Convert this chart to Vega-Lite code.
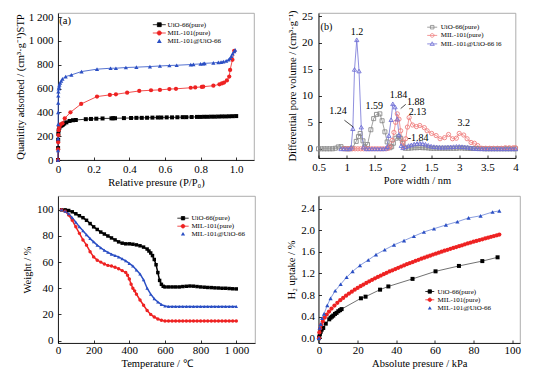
{
"$schema": "https://vega.github.io/schema/vega-lite/v6.json",
"background": "white",
"padding": {"left": 14, "top": 9, "right": 0, "bottom": 0},
"columns": 2,
"spacing": {"row": 36, "column": 63.5},
"bounds": "flush",
"resolve": {"scale": {"color": "independent", "fill": "independent", "stroke": "independent", "shape": "independent", "x": "independent", "y": "independent"}, "legend": {"color": "independent", "fill": "independent", "stroke": "independent", "shape": "independent"}},
"config": {
  "font": "Liberation Serif",
  "view": {"stroke": "#999", "strokeWidth": 0.8},
  "axis": {"grid": false, "domainColor": "#000", "domainWidth": 0.8, "tickColor": "#000", "tickWidth": 0.8, "tickSize": -3, "labelPadding": 8, "labelColor": "#000", "titleColor": "#000", "labelFont": "Liberation Serif", "titleFont": "Liberation Serif", "labelFontSize": 11, "titleFontSize": 10.5, "titleFontWeight": "normal", "labelFlush": false, "labelOverlap": false, "tickCount": 30},
  "legend": {"labelFont": "Liberation Serif", "labelFontSize": 7, "labelColor": "#000", "padding": 0, "labelLimit": 300, "symbolOpacity": 1, "symbolStrokeWidth": 0.8}
},
"datasets": {
"a": [
{"s":"UiO-66(pure)","x":0,"y":0},{"s":"UiO-66(pure)","x":0.0005,"y":100},{"s":"UiO-66(pure)","x":0.001,"y":170},{"s":"UiO-66(pure)","x":0.002,"y":220},{"s":"UiO-66(pure)","x":0.004,"y":250},{"s":"UiO-66(pure)","x":0.008,"y":272},{"s":"UiO-66(pure)","x":0.015,"y":285},{"s":"UiO-66(pure)","x":0.022,"y":292},{"s":"UiO-66(pure)","x":0.028,"y":298},{"s":"UiO-66(pure)","x":0.035,"y":306},{"s":"UiO-66(pure)","x":0.047,"y":316},{"s":"UiO-66(pure)","x":0.065,"y":328},{"s":"UiO-66(pure)","x":0.084,"y":334},{"s":"UiO-66(pure)","x":0.1,"y":336},{"s":"UiO-66(pure)","x":0.156,"y":343},{"s":"UiO-66(pure)","x":0.185,"y":345},{"s":"UiO-66(pure)","x":0.215,"y":347},{"s":"UiO-66(pure)","x":0.25,"y":349},{"s":"UiO-66(pure)","x":0.3,"y":350},{"s":"UiO-66(pure)","x":0.31,"y":351},{"s":"UiO-66(pure)","x":0.32,"y":351},{"s":"UiO-66(pure)","x":0.37,"y":352},{"s":"UiO-66(pure)","x":0.41,"y":353},{"s":"UiO-66(pure)","x":0.44,"y":354},{"s":"UiO-66(pure)","x":0.47,"y":354},{"s":"UiO-66(pure)","x":0.5,"y":355},{"s":"UiO-66(pure)","x":0.53,"y":356},{"s":"UiO-66(pure)","x":0.56,"y":357},{"s":"UiO-66(pure)","x":0.58,"y":357},{"s":"UiO-66(pure)","x":0.61,"y":358},{"s":"UiO-66(pure)","x":0.64,"y":358},{"s":"UiO-66(pure)","x":0.67,"y":359},{"s":"UiO-66(pure)","x":0.7,"y":360},{"s":"UiO-66(pure)","x":0.72,"y":360},{"s":"UiO-66(pure)","x":0.75,"y":361},{"s":"UiO-66(pure)","x":0.78,"y":362},{"s":"UiO-66(pure)","x":0.8,"y":362},{"s":"UiO-66(pure)","x":0.82,"y":363},{"s":"UiO-66(pure)","x":0.84,"y":363},{"s":"UiO-66(pure)","x":0.86,"y":364},{"s":"UiO-66(pure)","x":0.88,"y":364},{"s":"UiO-66(pure)","x":0.9,"y":365},{"s":"UiO-66(pure)","x":0.92,"y":366},{"s":"UiO-66(pure)","x":0.94,"y":366},{"s":"UiO-66(pure)","x":0.96,"y":367},{"s":"UiO-66(pure)","x":0.98,"y":368},{"s":"UiO-66(pure)","x":1.0,"y":369},
{"s":"MIL-101(pure)","x":0,"y":0},{"s":"MIL-101(pure)","x":0.0005,"y":90},{"s":"MIL-101(pure)","x":0.001,"y":150},{"s":"MIL-101(pure)","x":0.002,"y":210},{"s":"MIL-101(pure)","x":0.004,"y":250},{"s":"MIL-101(pure)","x":0.007,"y":275},{"s":"MIL-101(pure)","x":0.01,"y":289},{"s":"MIL-101(pure)","x":0.015,"y":300},{"s":"MIL-101(pure)","x":0.025,"y":308},{"s":"MIL-101(pure)","x":0.038,"y":350},{"s":"MIL-101(pure)","x":0.07,"y":401},{"s":"MIL-101(pure)","x":0.13,"y":471},{"s":"MIL-101(pure)","x":0.219,"y":533},{"s":"MIL-101(pure)","x":0.291,"y":547},{"s":"MIL-101(pure)","x":0.325,"y":552},{"s":"MIL-101(pure)","x":0.388,"y":566},{"s":"MIL-101(pure)","x":0.456,"y":580},{"s":"MIL-101(pure)","x":0.522,"y":586},{"s":"MIL-101(pure)","x":0.572,"y":589},{"s":"MIL-101(pure)","x":0.625,"y":596},{"s":"MIL-101(pure)","x":0.662,"y":598},{"s":"MIL-101(pure)","x":0.745,"y":607},{"s":"MIL-101(pure)","x":0.77,"y":610},{"s":"MIL-101(pure)","x":0.807,"y":614},{"s":"MIL-101(pure)","x":0.815,"y":616},{"s":"MIL-101(pure)","x":0.872,"y":624},{"s":"MIL-101(pure)","x":0.906,"y":636},{"s":"MIL-101(pure)","x":0.92,"y":643},{"s":"MIL-101(pure)","x":0.932,"y":651},{"s":"MIL-101(pure)","x":0.948,"y":668},{"s":"MIL-101(pure)","x":0.961,"y":701},{"s":"MIL-101(pure)","x":0.966,"y":757},{"s":"MIL-101(pure)","x":0.979,"y":842},{"s":"MIL-101(pure)","x":0.989,"y":917},
{"s":"MIL-101@UiO-66","x":0,"y":0},{"s":"MIL-101@UiO-66","x":0.0003,"y":80},{"s":"MIL-101@UiO-66","x":0.0005,"y":180},{"s":"MIL-101@UiO-66","x":0.0008,"y":300},{"s":"MIL-101@UiO-66","x":0.001,"y":400},{"s":"MIL-101@UiO-66","x":0.0013,"y":480},{"s":"MIL-101@UiO-66","x":0.0016,"y":540},{"s":"MIL-101@UiO-66","x":0.002,"y":575},{"s":"MIL-101@UiO-66","x":0.004,"y":600},{"s":"MIL-101@UiO-66","x":0.006,"y":615},{"s":"MIL-101@UiO-66","x":0.008,"y":631},{"s":"MIL-101@UiO-66","x":0.012,"y":648},{"s":"MIL-101@UiO-66","x":0.018,"y":664},{"s":"MIL-101@UiO-66","x":0.025,"y":682},{"s":"MIL-101@UiO-66","x":0.043,"y":701},{"s":"MIL-101@UiO-66","x":0.075,"y":715},{"s":"MIL-101@UiO-66","x":0.132,"y":743},{"s":"MIL-101@UiO-66","x":0.219,"y":763},{"s":"MIL-101@UiO-66","x":0.295,"y":771},{"s":"MIL-101@UiO-66","x":0.325,"y":771},{"s":"MIL-101@UiO-66","x":0.381,"y":777},{"s":"MIL-101@UiO-66","x":0.44,"y":780},{"s":"MIL-101@UiO-66","x":0.516,"y":785},{"s":"MIL-101@UiO-66","x":0.572,"y":790},{"s":"MIL-101@UiO-66","x":0.625,"y":794},{"s":"MIL-101@UiO-66","x":0.666,"y":796},{"s":"MIL-101@UiO-66","x":0.745,"y":802},{"s":"MIL-101@UiO-66","x":0.76,"y":804},{"s":"MIL-101@UiO-66","x":0.8,"y":807},{"s":"MIL-101@UiO-66","x":0.815,"y":810},{"s":"MIL-101@UiO-66","x":0.823,"y":812},{"s":"MIL-101@UiO-66","x":0.872,"y":816},{"s":"MIL-101@UiO-66","x":0.9,"y":820},{"s":"MIL-101@UiO-66","x":0.915,"y":823},{"s":"MIL-101@UiO-66","x":0.928,"y":827},{"s":"MIL-101@UiO-66","x":0.944,"y":833},{"s":"MIL-101@UiO-66","x":0.957,"y":842},{"s":"MIL-101@UiO-66","x":0.966,"y":855},{"s":"MIL-101@UiO-66","x":0.973,"y":872},{"s":"MIL-101@UiO-66","x":0.98,"y":893},{"s":"MIL-101@UiO-66","x":0.989,"y":912},{"s":"MIL-101@UiO-66","x":0.994,"y":925}
],
"b": [
{"s":"UiO-66(pure)","x":0.5,"y":0},{"s":"UiO-66(pure)","x":0.55,"y":0},{"s":"UiO-66(pure)","x":0.6,"y":0},{"s":"UiO-66(pure)","x":0.65,"y":0},{"s":"UiO-66(pure)","x":0.7,"y":0},{"s":"UiO-66(pure)","x":0.75,"y":0},{"s":"UiO-66(pure)","x":0.8,"y":0.1},{"s":"UiO-66(pure)","x":0.85,"y":0.35},{"s":"UiO-66(pure)","x":0.9,"y":0.4},{"s":"UiO-66(pure)","x":0.95,"y":0.05},{"s":"UiO-66(pure)","x":1.0,"y":0},{"s":"UiO-66(pure)","x":1.05,"y":0},{"s":"UiO-66(pure)","x":1.1,"y":0.1},{"s":"UiO-66(pure)","x":1.17,"y":1.4},{"s":"UiO-66(pure)","x":1.21,"y":2.3},{"s":"UiO-66(pure)","x":1.24,"y":2.9},{"s":"UiO-66(pure)","x":1.29,"y":1.5},{"s":"UiO-66(pure)","x":1.32,"y":0.4},{"s":"UiO-66(pure)","x":1.37,"y":0.8},{"s":"UiO-66(pure)","x":1.43,"y":3.6},{"s":"UiO-66(pure)","x":1.48,"y":5.7},{"s":"UiO-66(pure)","x":1.53,"y":6.5},{"s":"UiO-66(pure)","x":1.59,"y":6.6},{"s":"UiO-66(pure)","x":1.63,"y":5.3},{"s":"UiO-66(pure)","x":1.68,"y":3.2},{"s":"UiO-66(pure)","x":1.72,"y":1.3},{"s":"UiO-66(pure)","x":1.77,"y":0.2},{"s":"UiO-66(pure)","x":1.8,"y":0.4},{"s":"UiO-66(pure)","x":1.83,"y":1.05},{"s":"UiO-66(pure)","x":1.875,"y":2.0},{"s":"UiO-66(pure)","x":1.92,"y":2.3},{"s":"UiO-66(pure)","x":1.96,"y":2.0},{"s":"UiO-66(pure)","x":2.0,"y":1.05},{"s":"UiO-66(pure)","x":2.04,"y":0.1},{"s":"UiO-66(pure)","x":2.1,"y":0.1},{"s":"UiO-66(pure)","x":2.15,"y":0.15},{"s":"UiO-66(pure)","x":2.2,"y":0.2},{"s":"UiO-66(pure)","x":2.25,"y":0.2},{"s":"UiO-66(pure)","x":2.3,"y":0.25},{"s":"UiO-66(pure)","x":2.35,"y":0.2},{"s":"UiO-66(pure)","x":2.4,"y":0.2},{"s":"UiO-66(pure)","x":2.45,"y":0.15},{"s":"UiO-66(pure)","x":2.5,"y":0.1},{"s":"UiO-66(pure)","x":2.55,"y":0.1},{"s":"UiO-66(pure)","x":2.6,"y":0.1},{"s":"UiO-66(pure)","x":2.65,"y":0.1},{"s":"UiO-66(pure)","x":2.7,"y":0.1},{"s":"UiO-66(pure)","x":2.75,"y":0.1},{"s":"UiO-66(pure)","x":2.8,"y":0.1},{"s":"UiO-66(pure)","x":2.85,"y":0.1},{"s":"UiO-66(pure)","x":2.9,"y":0.1},{"s":"UiO-66(pure)","x":2.95,"y":0.1},{"s":"UiO-66(pure)","x":3.0,"y":0.15},{"s":"UiO-66(pure)","x":3.05,"y":0.15},{"s":"UiO-66(pure)","x":3.1,"y":0.1},{"s":"UiO-66(pure)","x":3.15,"y":0.1},{"s":"UiO-66(pure)","x":3.2,"y":0.05},{"s":"UiO-66(pure)","x":3.25,"y":0.05},{"s":"UiO-66(pure)","x":3.3,"y":0.05},{"s":"UiO-66(pure)","x":3.35,"y":0.05},{"s":"UiO-66(pure)","x":3.4,"y":0.05},{"s":"UiO-66(pure)","x":3.45,"y":0},{"s":"UiO-66(pure)","x":3.5,"y":0},{"s":"UiO-66(pure)","x":3.55,"y":0},{"s":"UiO-66(pure)","x":3.6,"y":0},{"s":"UiO-66(pure)","x":3.65,"y":0},{"s":"UiO-66(pure)","x":3.7,"y":0},{"s":"UiO-66(pure)","x":3.75,"y":0},{"s":"UiO-66(pure)","x":3.8,"y":0},{"s":"UiO-66(pure)","x":3.85,"y":0},{"s":"UiO-66(pure)","x":3.9,"y":0},{"s":"UiO-66(pure)","x":3.95,"y":0},{"s":"UiO-66(pure)","x":4.0,"y":0},
{"s":"MIL-101(pure)","x":0.95,"y":0},{"s":"MIL-101(pure)","x":1.0,"y":0},{"s":"MIL-101(pure)","x":1.05,"y":0},{"s":"MIL-101(pure)","x":1.1,"y":0},{"s":"MIL-101(pure)","x":1.15,"y":0},{"s":"MIL-101(pure)","x":1.2,"y":0},{"s":"MIL-101(pure)","x":1.25,"y":0},{"s":"MIL-101(pure)","x":1.3,"y":0},{"s":"MIL-101(pure)","x":1.35,"y":0},{"s":"MIL-101(pure)","x":1.4,"y":0},{"s":"MIL-101(pure)","x":1.45,"y":0},{"s":"MIL-101(pure)","x":1.5,"y":0},{"s":"MIL-101(pure)","x":1.55,"y":0},{"s":"MIL-101(pure)","x":1.6,"y":0},{"s":"MIL-101(pure)","x":1.65,"y":0},{"s":"MIL-101(pure)","x":1.7,"y":0},{"s":"MIL-101(pure)","x":1.74,"y":0.1},{"s":"MIL-101(pure)","x":1.77,"y":0.4},{"s":"MIL-101(pure)","x":1.81,"y":1.6},{"s":"MIL-101(pure)","x":1.84,"y":3.1},{"s":"MIL-101(pure)","x":1.87,"y":5.0},{"s":"MIL-101(pure)","x":1.9,"y":6.6},{"s":"MIL-101(pure)","x":1.93,"y":5.6},{"s":"MIL-101(pure)","x":1.96,"y":3.4},{"s":"MIL-101(pure)","x":1.99,"y":1.25},{"s":"MIL-101(pure)","x":2.02,"y":0.3},{"s":"MIL-101(pure)","x":2.05,"y":1.9},{"s":"MIL-101(pure)","x":2.08,"y":4.1},{"s":"MIL-101(pure)","x":2.11,"y":5.9},{"s":"MIL-101(pure)","x":2.17,"y":4.5},{"s":"MIL-101(pure)","x":2.24,"y":4.2},{"s":"MIL-101(pure)","x":2.3,"y":4.4},{"s":"MIL-101(pure)","x":2.38,"y":4.0},{"s":"MIL-101(pure)","x":2.43,"y":3.4},{"s":"MIL-101(pure)","x":2.51,"y":2.9},{"s":"MIL-101(pure)","x":2.59,"y":2.5},{"s":"MIL-101(pure)","x":2.66,"y":1.9},{"s":"MIL-101(pure)","x":2.74,"y":2.1},{"s":"MIL-101(pure)","x":2.81,"y":2.7},{"s":"MIL-101(pure)","x":2.88,"y":1.9},{"s":"MIL-101(pure)","x":2.95,"y":2.0},{"s":"MIL-101(pure)","x":3.0,"y":2.9},{"s":"MIL-101(pure)","x":3.08,"y":2.6},{"s":"MIL-101(pure)","x":3.14,"y":1.9},{"s":"MIL-101(pure)","x":3.21,"y":1.2},{"s":"MIL-101(pure)","x":3.27,"y":1.05},{"s":"MIL-101(pure)","x":3.33,"y":0.6},{"s":"MIL-101(pure)","x":3.4,"y":0.1},{"s":"MIL-101(pure)","x":3.47,"y":0.1},{"s":"MIL-101(pure)","x":3.54,"y":0.1},{"s":"MIL-101(pure)","x":3.61,"y":0.1},{"s":"MIL-101(pure)","x":3.68,"y":0.1},{"s":"MIL-101(pure)","x":3.75,"y":0.1},{"s":"MIL-101(pure)","x":3.82,"y":0.2},{"s":"MIL-101(pure)","x":3.89,"y":0.2},{"s":"MIL-101(pure)","x":3.96,"y":0.2},{"s":"MIL-101(pure)","x":4.0,"y":0.2},
{"s":"MIL-101@UiO-66","x":0.9,"y":0},{"s":"MIL-101@UiO-66","x":0.95,"y":0},{"s":"MIL-101@UiO-66","x":1.0,"y":0},{"s":"MIL-101@UiO-66","x":1.05,"y":0},{"s":"MIL-101@UiO-66","x":1.08,"y":0.3},{"s":"MIL-101@UiO-66","x":1.11,"y":3.8},{"s":"MIL-101@UiO-66","x":1.14,"y":15},{"s":"MIL-101@UiO-66","x":1.18,"y":20.6},{"s":"MIL-101@UiO-66","x":1.22,"y":14.7},{"s":"MIL-101@UiO-66","x":1.26,"y":4.1},{"s":"MIL-101@UiO-66","x":1.3,"y":0.3},{"s":"MIL-101@UiO-66","x":1.35,"y":0},{"s":"MIL-101@UiO-66","x":1.4,"y":0},{"s":"MIL-101@UiO-66","x":1.45,"y":0},{"s":"MIL-101@UiO-66","x":1.5,"y":0},{"s":"MIL-101@UiO-66","x":1.55,"y":0},{"s":"MIL-101@UiO-66","x":1.6,"y":0},{"s":"MIL-101@UiO-66","x":1.65,"y":0},{"s":"MIL-101@UiO-66","x":1.7,"y":0.1},{"s":"MIL-101@UiO-66","x":1.72,"y":0.4},{"s":"MIL-101@UiO-66","x":1.75,"y":2.5},{"s":"MIL-101@UiO-66","x":1.79,"y":5.5},{"s":"MIL-101@UiO-66","x":1.82,"y":8.5},{"s":"MIL-101@UiO-66","x":1.86,"y":7.9},{"s":"MIL-101@UiO-66","x":1.9,"y":5.6},{"s":"MIL-101@UiO-66","x":1.93,"y":2.6},{"s":"MIL-101@UiO-66","x":1.97,"y":0.6},{"s":"MIL-101@UiO-66","x":2.0,"y":0.2},{"s":"MIL-101@UiO-66","x":2.05,"y":0.4},{"s":"MIL-101@UiO-66","x":2.1,"y":0.6},{"s":"MIL-101@UiO-66","x":2.15,"y":0.75},{"s":"MIL-101@UiO-66","x":2.2,"y":0.9},{"s":"MIL-101@UiO-66","x":2.25,"y":1.0},{"s":"MIL-101@UiO-66","x":2.3,"y":1.05},{"s":"MIL-101@UiO-66","x":2.35,"y":1.0},{"s":"MIL-101@UiO-66","x":2.4,"y":0.85},{"s":"MIL-101@UiO-66","x":2.45,"y":0.65},{"s":"MIL-101@UiO-66","x":2.5,"y":0.5},{"s":"MIL-101@UiO-66","x":2.55,"y":0.4},{"s":"MIL-101@UiO-66","x":2.6,"y":0.35},{"s":"MIL-101@UiO-66","x":2.65,"y":0.3},{"s":"MIL-101@UiO-66","x":2.7,"y":0.3},{"s":"MIL-101@UiO-66","x":2.75,"y":0.3},{"s":"MIL-101@UiO-66","x":2.8,"y":0.35},{"s":"MIL-101@UiO-66","x":2.85,"y":0.35},{"s":"MIL-101@UiO-66","x":2.9,"y":0.4},{"s":"MIL-101@UiO-66","x":2.95,"y":0.45},{"s":"MIL-101@UiO-66","x":3.0,"y":0.45},{"s":"MIL-101@UiO-66","x":3.05,"y":0.4},{"s":"MIL-101@UiO-66","x":3.1,"y":0.35},{"s":"MIL-101@UiO-66","x":3.15,"y":0.3},{"s":"MIL-101@UiO-66","x":3.2,"y":0.2},{"s":"MIL-101@UiO-66","x":3.25,"y":0.1},{"s":"MIL-101@UiO-66","x":3.3,"y":0.05},{"s":"MIL-101@UiO-66","x":3.35,"y":0},{"s":"MIL-101@UiO-66","x":3.4,"y":0},{"s":"MIL-101@UiO-66","x":3.45,"y":0},{"s":"MIL-101@UiO-66","x":3.5,"y":0},{"s":"MIL-101@UiO-66","x":3.55,"y":0},{"s":"MIL-101@UiO-66","x":3.6,"y":0},{"s":"MIL-101@UiO-66","x":3.65,"y":0},{"s":"MIL-101@UiO-66","x":3.7,"y":0},{"s":"MIL-101@UiO-66","x":3.75,"y":0},{"s":"MIL-101@UiO-66","x":3.8,"y":0},{"s":"MIL-101@UiO-66","x":3.85,"y":0},{"s":"MIL-101@UiO-66","x":3.9,"y":0},{"s":"MIL-101@UiO-66","x":3.95,"y":0},{"s":"MIL-101@UiO-66","x":4.0,"y":0}
],
"bnotes": [
{"t":"1.2","x":1.185,"y":22.1},{"t":"1.24","x":0.845,"y":7.1},{"t":"1.59","x":1.49,"y":8.1},{"t":"1.84","x":1.92,"y":10.1},{"t":"1.88","x":2.23,"y":8.9},{"t":"2.13","x":2.26,"y":7.0},{"t":"-1.84","x":2.27,"y":2.1},{"t":"3.2","x":3.08,"y":4.8},{"t":"(b)","x":0.64,"y":23.1}
],
"barrows": [
{"x":0.96,"y":5.4,"x2":1.12,"y2":4.1},{"x":2.05,"y":8.4,"x2":1.96,"y2":7.6}
],
"c": [
{"s":"UiO-66(pure)","x":20,"y":100},{"s":"UiO-66(pure)","x":40,"y":100},{"s":"UiO-66(pure)","x":60,"y":99.5},{"s":"UiO-66(pure)","x":80,"y":98.5},{"s":"UiO-66(pure)","x":100,"y":97},{"s":"UiO-66(pure)","x":120,"y":95.5},{"s":"UiO-66(pure)","x":140,"y":94},{"s":"UiO-66(pure)","x":160,"y":92},{"s":"UiO-66(pure)","x":180,"y":89.5},{"s":"UiO-66(pure)","x":200,"y":87},{"s":"UiO-66(pure)","x":220,"y":85},{"s":"UiO-66(pure)","x":240,"y":83},{"s":"UiO-66(pure)","x":260,"y":81.5},{"s":"UiO-66(pure)","x":280,"y":80},{"s":"UiO-66(pure)","x":300,"y":78.5},{"s":"UiO-66(pure)","x":320,"y":77},{"s":"UiO-66(pure)","x":340,"y":75.5},{"s":"UiO-66(pure)","x":360,"y":74.5},{"s":"UiO-66(pure)","x":380,"y":74},{"s":"UiO-66(pure)","x":400,"y":74},{"s":"UiO-66(pure)","x":420,"y":73.7},{"s":"UiO-66(pure)","x":440,"y":73.2},{"s":"UiO-66(pure)","x":460,"y":72.5},{"s":"UiO-66(pure)","x":480,"y":71.5},{"s":"UiO-66(pure)","x":500,"y":70},{"s":"UiO-66(pure)","x":510,"y":68.5},{"s":"UiO-66(pure)","x":520,"y":67},{"s":"UiO-66(pure)","x":530,"y":65},{"s":"UiO-66(pure)","x":540,"y":62},{"s":"UiO-66(pure)","x":550,"y":58},{"s":"UiO-66(pure)","x":560,"y":52},{"s":"UiO-66(pure)","x":570,"y":46},{"s":"UiO-66(pure)","x":580,"y":43},{"s":"UiO-66(pure)","x":590,"y":41.5},{"s":"UiO-66(pure)","x":600,"y":41},{"s":"UiO-66(pure)","x":620,"y":41},{"s":"UiO-66(pure)","x":640,"y":41},{"s":"UiO-66(pure)","x":660,"y":41},{"s":"UiO-66(pure)","x":680,"y":41},{"s":"UiO-66(pure)","x":700,"y":41.3},{"s":"UiO-66(pure)","x":720,"y":41.5},{"s":"UiO-66(pure)","x":740,"y":41.7},{"s":"UiO-66(pure)","x":760,"y":41.6},{"s":"UiO-66(pure)","x":780,"y":41.3},{"s":"UiO-66(pure)","x":800,"y":41},{"s":"UiO-66(pure)","x":820,"y":40.8},{"s":"UiO-66(pure)","x":840,"y":40.6},{"s":"UiO-66(pure)","x":860,"y":40.5},{"s":"UiO-66(pure)","x":880,"y":40.3},{"s":"UiO-66(pure)","x":900,"y":40.2},{"s":"UiO-66(pure)","x":920,"y":40},{"s":"UiO-66(pure)","x":940,"y":40},{"s":"UiO-66(pure)","x":960,"y":39.8},{"s":"UiO-66(pure)","x":980,"y":39.6},{"s":"UiO-66(pure)","x":1000,"y":39.5},
{"s":"MIL-101(pure)","x":20,"y":100},{"s":"MIL-101(pure)","x":40,"y":99},{"s":"MIL-101(pure)","x":60,"y":96},{"s":"MIL-101(pure)","x":80,"y":92},{"s":"MIL-101(pure)","x":100,"y":87},{"s":"MIL-101(pure)","x":120,"y":82},{"s":"MIL-101(pure)","x":140,"y":77},{"s":"MIL-101(pure)","x":160,"y":73},{"s":"MIL-101(pure)","x":180,"y":68},{"s":"MIL-101(pure)","x":200,"y":64},{"s":"MIL-101(pure)","x":220,"y":61.5},{"s":"MIL-101(pure)","x":240,"y":60},{"s":"MIL-101(pure)","x":260,"y":58.5},{"s":"MIL-101(pure)","x":280,"y":57.5},{"s":"MIL-101(pure)","x":300,"y":57},{"s":"MIL-101(pure)","x":320,"y":56},{"s":"MIL-101(pure)","x":340,"y":55},{"s":"MIL-101(pure)","x":360,"y":53.5},{"s":"MIL-101(pure)","x":380,"y":52},{"s":"MIL-101(pure)","x":390,"y":50},{"s":"MIL-101(pure)","x":400,"y":47},{"s":"MIL-101(pure)","x":410,"y":43},{"s":"MIL-101(pure)","x":420,"y":40},{"s":"MIL-101(pure)","x":430,"y":38},{"s":"MIL-101(pure)","x":440,"y":35.5},{"s":"MIL-101(pure)","x":460,"y":31},{"s":"MIL-101(pure)","x":480,"y":27},{"s":"MIL-101(pure)","x":500,"y":23},{"s":"MIL-101(pure)","x":520,"y":20},{"s":"MIL-101(pure)","x":540,"y":18},{"s":"MIL-101(pure)","x":560,"y":16.5},{"s":"MIL-101(pure)","x":580,"y":15.5},{"s":"MIL-101(pure)","x":600,"y":15},{"s":"MIL-101(pure)","x":620,"y":15},{"s":"MIL-101(pure)","x":640,"y":15},{"s":"MIL-101(pure)","x":660,"y":15},{"s":"MIL-101(pure)","x":680,"y":15},{"s":"MIL-101(pure)","x":700,"y":15},{"s":"MIL-101(pure)","x":720,"y":15},{"s":"MIL-101(pure)","x":740,"y":15},{"s":"MIL-101(pure)","x":760,"y":15},{"s":"MIL-101(pure)","x":780,"y":15},{"s":"MIL-101(pure)","x":800,"y":15},{"s":"MIL-101(pure)","x":820,"y":15},{"s":"MIL-101(pure)","x":840,"y":15},{"s":"MIL-101(pure)","x":860,"y":15},{"s":"MIL-101(pure)","x":880,"y":15},{"s":"MIL-101(pure)","x":900,"y":15},{"s":"MIL-101(pure)","x":920,"y":15},{"s":"MIL-101(pure)","x":940,"y":15},{"s":"MIL-101(pure)","x":960,"y":15},{"s":"MIL-101(pure)","x":980,"y":15},{"s":"MIL-101(pure)","x":1000,"y":15},
{"s":"MIL-101@UiO-66","x":20,"y":100},{"s":"MIL-101@UiO-66","x":40,"y":99},{"s":"MIL-101@UiO-66","x":60,"y":97},{"s":"MIL-101@UiO-66","x":80,"y":94},{"s":"MIL-101@UiO-66","x":100,"y":90.5},{"s":"MIL-101@UiO-66","x":120,"y":87},{"s":"MIL-101@UiO-66","x":140,"y":84},{"s":"MIL-101@UiO-66","x":160,"y":81},{"s":"MIL-101@UiO-66","x":180,"y":78},{"s":"MIL-101@UiO-66","x":200,"y":75.5},{"s":"MIL-101@UiO-66","x":220,"y":73},{"s":"MIL-101@UiO-66","x":240,"y":71},{"s":"MIL-101@UiO-66","x":260,"y":69},{"s":"MIL-101@UiO-66","x":280,"y":67.5},{"s":"MIL-101@UiO-66","x":300,"y":66},{"s":"MIL-101@UiO-66","x":320,"y":65},{"s":"MIL-101@UiO-66","x":340,"y":64},{"s":"MIL-101@UiO-66","x":360,"y":62.5},{"s":"MIL-101@UiO-66","x":380,"y":61},{"s":"MIL-101@UiO-66","x":400,"y":59},{"s":"MIL-101@UiO-66","x":420,"y":57},{"s":"MIL-101@UiO-66","x":440,"y":54},{"s":"MIL-101@UiO-66","x":460,"y":51},{"s":"MIL-101@UiO-66","x":480,"y":46.5},{"s":"MIL-101@UiO-66","x":500,"y":40},{"s":"MIL-101@UiO-66","x":520,"y":35.5},{"s":"MIL-101@UiO-66","x":540,"y":32},{"s":"MIL-101@UiO-66","x":560,"y":29.5},{"s":"MIL-101@UiO-66","x":580,"y":27.5},{"s":"MIL-101@UiO-66","x":600,"y":26.5},{"s":"MIL-101@UiO-66","x":620,"y":26},{"s":"MIL-101@UiO-66","x":640,"y":26},{"s":"MIL-101@UiO-66","x":660,"y":26},{"s":"MIL-101@UiO-66","x":680,"y":26},{"s":"MIL-101@UiO-66","x":700,"y":26},{"s":"MIL-101@UiO-66","x":720,"y":26},{"s":"MIL-101@UiO-66","x":740,"y":26},{"s":"MIL-101@UiO-66","x":760,"y":26},{"s":"MIL-101@UiO-66","x":780,"y":26},{"s":"MIL-101@UiO-66","x":800,"y":26},{"s":"MIL-101@UiO-66","x":820,"y":26},{"s":"MIL-101@UiO-66","x":840,"y":26},{"s":"MIL-101@UiO-66","x":860,"y":26},{"s":"MIL-101@UiO-66","x":880,"y":26},{"s":"MIL-101@UiO-66","x":900,"y":26},{"s":"MIL-101@UiO-66","x":920,"y":26},{"s":"MIL-101@UiO-66","x":940,"y":26},{"s":"MIL-101@UiO-66","x":960,"y":26},{"s":"MIL-101@UiO-66","x":980,"y":26},{"s":"MIL-101@UiO-66","x":1000,"y":26}
],
"d": [
{"s":"UiO-66(pure)","x":0,"y":0},{"s":"UiO-66(pure)","x":0.2,"y":0.03},{"s":"UiO-66(pure)","x":0.5,"y":0.08},{"s":"UiO-66(pure)","x":0.9,"y":0.12},{"s":"UiO-66(pure)","x":1.4,"y":0.16},{"s":"UiO-66(pure)","x":2.2,"y":0.19},{"s":"UiO-66(pure)","x":3.5,"y":0.27},{"s":"UiO-66(pure)","x":5.3,"y":0.35},{"s":"UiO-66(pure)","x":6,"y":0.38},{"s":"UiO-66(pure)","x":6.7,"y":0.4},{"s":"UiO-66(pure)","x":7.4,"y":0.42},{"s":"UiO-66(pure)","x":8.3,"y":0.45},{"s":"UiO-66(pure)","x":9.1,"y":0.47},{"s":"UiO-66(pure)","x":10,"y":0.5},{"s":"UiO-66(pure)","x":10.9,"y":0.52},{"s":"UiO-66(pure)","x":11.7,"y":0.54},{"s":"UiO-66(pure)","x":21.7,"y":0.74},{"s":"UiO-66(pure)","x":24.1,"y":0.77},{"s":"UiO-66(pure)","x":31.6,"y":0.9},{"s":"UiO-66(pure)","x":35.9,"y":0.96},{"s":"UiO-66(pure)","x":48.4,"y":1.1},{"s":"UiO-66(pure)","x":60.3,"y":1.24},{"s":"UiO-66(pure)","x":72.4,"y":1.34},{"s":"UiO-66(pure)","x":84.5,"y":1.43},{"s":"UiO-66(pure)","x":92.4,"y":1.5},
{"s":"MIL-101(pure)","x":0,"y":0},{"s":"MIL-101(pure)","x":0.2,"y":0.107},{"s":"MIL-101(pure)","x":0.6,"y":0.179},{"s":"MIL-101(pure)","x":1.2,"y":0.248},{"s":"MIL-101(pure)","x":2,"y":0.316},{"s":"MIL-101(pure)","x":3,"y":0.382},{"s":"MIL-101(pure)","x":4,"y":0.438},{"s":"MIL-101(pure)","x":5.2,"y":0.495},{"s":"MIL-101(pure)","x":6.5,"y":0.549},{"s":"MIL-101(pure)","x":8,"y":0.606},{"s":"MIL-101(pure)","x":9.5,"y":0.657},{"s":"MIL-101(pure)","x":11,"y":0.704},{"s":"MIL-101(pure)","x":12.5,"y":0.747},{"s":"MIL-101(pure)","x":14,"y":0.788},{"s":"MIL-101(pure)","x":15.5,"y":0.827},{"s":"MIL-101(pure)","x":17,"y":0.863},{"s":"MIL-101(pure)","x":18.5,"y":0.899},{"s":"MIL-101(pure)","x":20,"y":0.932},{"s":"MIL-101(pure)","x":21.5,"y":0.964},{"s":"MIL-101(pure)","x":23,"y":0.995},{"s":"MIL-101(pure)","x":24.5,"y":1.025},{"s":"MIL-101(pure)","x":26,"y":1.054},{"s":"MIL-101(pure)","x":27.5,"y":1.082},{"s":"MIL-101(pure)","x":29,"y":1.11},{"s":"MIL-101(pure)","x":30.5,"y":1.136},{"s":"MIL-101(pure)","x":32,"y":1.162},{"s":"MIL-101(pure)","x":33.5,"y":1.188},{"s":"MIL-101(pure)","x":35,"y":1.213},{"s":"MIL-101(pure)","x":36.5,"y":1.237},{"s":"MIL-101(pure)","x":38,"y":1.26},{"s":"MIL-101(pure)","x":39.5,"y":1.283},{"s":"MIL-101(pure)","x":41,"y":1.306},{"s":"MIL-101(pure)","x":42.5,"y":1.328},{"s":"MIL-101(pure)","x":44,"y":1.35},{"s":"MIL-101(pure)","x":45.5,"y":1.372},{"s":"MIL-101(pure)","x":47,"y":1.393},{"s":"MIL-101(pure)","x":48.5,"y":1.413},{"s":"MIL-101(pure)","x":50,"y":1.434},{"s":"MIL-101(pure)","x":51.5,"y":1.454},{"s":"MIL-101(pure)","x":53,"y":1.474},{"s":"MIL-101(pure)","x":54.5,"y":1.493},{"s":"MIL-101(pure)","x":56,"y":1.512},{"s":"MIL-101(pure)","x":57.5,"y":1.531},{"s":"MIL-101(pure)","x":59,"y":1.55},{"s":"MIL-101(pure)","x":60.5,"y":1.568},{"s":"MIL-101(pure)","x":62,"y":1.586},{"s":"MIL-101(pure)","x":63.5,"y":1.604},{"s":"MIL-101(pure)","x":65,"y":1.622},{"s":"MIL-101(pure)","x":66.5,"y":1.639},{"s":"MIL-101(pure)","x":68,"y":1.657},{"s":"MIL-101(pure)","x":69.5,"y":1.674},{"s":"MIL-101(pure)","x":71,"y":1.69},{"s":"MIL-101(pure)","x":72.5,"y":1.707},{"s":"MIL-101(pure)","x":74,"y":1.723},{"s":"MIL-101(pure)","x":75.5,"y":1.74},{"s":"MIL-101(pure)","x":77,"y":1.757},{"s":"MIL-101(pure)","x":78.5,"y":1.773},{"s":"MIL-101(pure)","x":80,"y":1.789},{"s":"MIL-101(pure)","x":81.5,"y":1.803},{"s":"MIL-101(pure)","x":83,"y":1.819},{"s":"MIL-101(pure)","x":84.5,"y":1.834},{"s":"MIL-101(pure)","x":86,"y":1.851},{"s":"MIL-101(pure)","x":87.5,"y":1.865},{"s":"MIL-101(pure)","x":89,"y":1.881},{"s":"MIL-101(pure)","x":90.5,"y":1.894},{"s":"MIL-101(pure)","x":92,"y":1.909},{"s":"MIL-101(pure)","x":93.3,"y":1.922},
{"s":"MIL-101@UiO-66","x":0,"y":0},{"s":"MIL-101@UiO-66","x":0.35,"y":0.19},{"s":"MIL-101@UiO-66","x":0.9,"y":0.26},{"s":"MIL-101@UiO-66","x":1.6,"y":0.37},{"s":"MIL-101@UiO-66","x":2.6,"y":0.45},{"s":"MIL-101@UiO-66","x":4.3,"y":0.61},{"s":"MIL-101@UiO-66","x":6,"y":0.74},{"s":"MIL-101@UiO-66","x":8.4,"y":0.88},{"s":"MIL-101@UiO-66","x":11.2,"y":1.0},{"s":"MIL-101@UiO-66","x":14.3,"y":1.13},{"s":"MIL-101@UiO-66","x":17.4,"y":1.24},{"s":"MIL-101@UiO-66","x":21.2,"y":1.35},{"s":"MIL-101@UiO-66","x":25.5,"y":1.45},{"s":"MIL-101@UiO-66","x":29.5,"y":1.55},{"s":"MIL-101@UiO-66","x":34,"y":1.64},{"s":"MIL-101@UiO-66","x":38.8,"y":1.73},{"s":"MIL-101@UiO-66","x":44,"y":1.81},{"s":"MIL-101@UiO-66","x":49.1,"y":1.89},{"s":"MIL-101@UiO-66","x":54.3,"y":1.97},{"s":"MIL-101@UiO-66","x":59.5,"y":2.03},{"s":"MIL-101@UiO-66","x":65.7,"y":2.1},{"s":"MIL-101@UiO-66","x":71.6,"y":2.16},{"s":"MIL-101@UiO-66","x":77.4,"y":2.23},{"s":"MIL-101@UiO-66","x":83.6,"y":2.27},{"s":"MIL-101@UiO-66","x":89.8,"y":2.34},{"s":"MIL-101@UiO-66","x":93.3,"y":2.36}
]
},
"concat": [
{
 "width": 196, "height": 147,
 "layer": [
  {"data": {"name": "a"}, "mark": {"type": "line", "strokeWidth": 0.8},
   "encoding": {
    "x": {"field": "x", "type": "quantitative", "scale": {"domain": [0, 1.1], "nice": false, "zero": false}, "axis": {"title": "Relative presure (P/P₀)", "values": [0, 0.2, 0.4, 0.6, 0.8, 1.0], "labelExpr": "datum.value === 0 ? '0' : format(datum.value, '.1f')", "tickCount": 30, "labelOverlap": false, "labelPadding": 6, "titlePadding": 3}},
    "y": {"field": "y", "type": "quantitative", "scale": {"domain": [0, 1235], "nice": false, "zero": false}, "axis": {"title": "Quanitity adsorbed / (cm³·g⁻¹)STP", "values": [0, 200, 400, 600, 800, 1000, 1200], "labelExpr": "datum.value >= 1000 ? '1 ' + format(datum.value - 1000, '03d') : format(datum.value, 'd')", "tickCount": 30, "labelOverlap": false, "titlePadding": 3}},
    "color": {"field": "s", "type": "nominal", "scale": {"domain": ["UiO-66(pure)", "MIL-101(pure)", "MIL-101@UiO-66"], "range": ["#000000", "#ee2222", "#2b4fc4"]}, "legend": null}}},
  {"data": {"name": "a"}, "transform": [{"filter": "datum.s === 'UiO-66(pure)'"}], "mark": {"type": "point", "shape": "square", "filled": true, "size": 16, "opacity": 1},
   "encoding": {"x": {"field": "x", "type": "quantitative"}, "y": {"field": "y", "type": "quantitative"}, "color": {"field": "s", "type": "nominal", "legend": null}}},
  {"data": {"name": "a"}, "transform": [{"filter": "datum.s === 'MIL-101(pure)'"}], "mark": {"type": "point", "shape": "circle", "filled": true, "size": 18, "opacity": 1},
   "encoding": {"x": {"field": "x", "type": "quantitative"}, "y": {"field": "y", "type": "quantitative"}, "color": {"field": "s", "type": "nominal", "legend": null}}},
  {"data": {"name": "a"}, "transform": [{"filter": "datum.s === 'MIL-101@UiO-66'"}], "mark": {"type": "point", "shape": "triangle-up", "filled": true, "size": 18, "opacity": 1},
   "encoding": {"x": {"field": "x", "type": "quantitative"}, "y": {"field": "y", "type": "quantitative"}, "color": {"field": "s", "type": "nominal", "legend": null}}},
  {"data": {"name": "a"}, "transform": [{"filter": "datum.s === 'UiO-66(pure)'"}], "mark": {"type": "point", "filled": true, "color": "#000000", "opacity": 0},
   "encoding": {"x": {"field": "x", "type": "quantitative"}, "y": {"field": "y", "type": "quantitative"},
    "stroke": {"field": "s", "type": "nominal", "scale": {"domain": ["UiO-66(pure)"], "range": ["#000000"]}, "legend": {"title": null, "orient": "none", "legendX": 97.3, "legendY": 7.7, "symbolSize": 42, "labelOffset": 4.3, "symbolType": "M-2,0H2M-0.6,-0.6H0.6V0.6H-0.6Z", "symbolFillColor": "#000000"}}}},
  {"data": {"name": "a"}, "transform": [{"filter": "datum.s === 'MIL-101(pure)'"}], "mark": {"type": "point", "filled": true, "opacity": 0},
   "encoding": {"x": {"field": "x", "type": "quantitative"}, "y": {"field": "y", "type": "quantitative"},
    "fill": {"field": "s", "type": "nominal", "scale": {"domain": ["MIL-101(pure)"], "range": ["#ee2222"]}, "legend": {"title": null, "orient": "none", "legendX": 97.3, "legendY": 16, "symbolSize": 42, "labelOffset": 4.3, "symbolType": "M-2,0H2M0.65,0A0.65,0.65,0,1,1,-0.65,0A0.65,0.65,0,1,1,0.65,0Z", "symbolStrokeColor": "#ee2222"}}}},
  {"data": {"name": "a"}, "transform": [{"filter": "datum.s === 'MIL-101@UiO-66'"}], "mark": {"type": "point", "filled": true, "color": "#2b4fc4", "stroke": "#2b4fc4", "opacity": 0},
   "encoding": {"x": {"field": "x", "type": "quantitative"}, "y": {"field": "y", "type": "quantitative"},
    "shape": {"field": "s", "type": "nominal", "scale": {"domain": ["MIL-101@UiO-66"], "range": ["M-2,0H2M0,-0.75L0.75,0.5H-0.75Z"]}, "legend": {"title": null, "orient": "none", "legendX": 97.3, "legendY": 24.3, "symbolSize": 42, "labelOffset": 4.3, "symbolFillColor": "#2b4fc4", "symbolStrokeColor": "#2b4fc4"}}}},
  {"data": {"values": [{"t": "(a)", "x": 0.04, "y": 1164}]}, "mark": {"type": "text", "fontSize": 10.5, "font": "Liberation Serif", "color": "#000"},
   "encoding": {"x": {"field": "x", "type": "quantitative"}, "y": {"field": "y", "type": "quantitative"}, "text": {"field": "t"}}}
 ]
},
{
 "width": 197, "height": 145,
 "layer": [
  {"data": {"name": "b"}, "mark": {"type": "line", "strokeWidth": 0.8},
   "encoding": {
    "x": {"field": "x", "type": "quantitative", "scale": {"domain": [0.5, 4], "nice": false, "zero": false}, "axis": {"title": "Pore width / nm", "values": [0.5, 1, 1.5, 2, 2.5, 3, 3.5, 4], "labelExpr": "datum.value === 2.5 ? '1.5' : format(datum.value, '~g')", "tickCount": 30, "labelOverlap": false, "labelPadding": 6, "titlePadding": 3}},
    "y": {"field": "y", "type": "quantitative", "scale": {"domain": [-1.74, 25.66], "nice": false, "zero": false}, "axis": {"title": "Differential pore volume / (cm³·g⁻¹)", "values": [0, 5, 10, 15, 20, 25], "tickCount": 30, "labelOverlap": false, "labelPadding": 9, "titlePadding": 4}},
    "color": {"field": "s", "type": "nominal", "scale": {"domain": ["UiO-66(pure)", "MIL-101(pure)", "MIL-101@UiO-66"], "range": ["#8a8a8a", "#ef7f7f", "#7272d6"]}, "legend": null}}},
  {"data": {"name": "b"}, "transform": [{"filter": "datum.s === 'UiO-66(pure)'"}], "mark": {"type": "point", "shape": "square", "filled": false, "size": 16, "strokeWidth": 0.9, "opacity": 1},
   "encoding": {"x": {"field": "x", "type": "quantitative"}, "y": {"field": "y", "type": "quantitative"}, "color": {"field": "s", "type": "nominal", "legend": null}}},
  {"data": {"name": "b"}, "transform": [{"filter": "datum.s === 'MIL-101(pure)'"}], "mark": {"type": "point", "shape": "circle", "filled": false, "size": 18, "strokeWidth": 0.9, "opacity": 1},
   "encoding": {"x": {"field": "x", "type": "quantitative"}, "y": {"field": "y", "type": "quantitative"}, "color": {"field": "s", "type": "nominal", "legend": null}}},
  {"data": {"name": "b"}, "transform": [{"filter": "datum.s === 'MIL-101@UiO-66'"}], "mark": {"type": "point", "shape": "triangle-up", "filled": false, "size": 18, "strokeWidth": 0.9, "opacity": 1},
   "encoding": {"x": {"field": "x", "type": "quantitative"}, "y": {"field": "y", "type": "quantitative"}, "color": {"field": "s", "type": "nominal", "legend": null}}},
  {"data": {"name": "b"}, "transform": [{"filter": "datum.s === 'UiO-66(pure)'"}], "mark": {"type": "point", "filled": false, "opacity": 0},
   "encoding": {"x": {"field": "x", "type": "quantitative"}, "y": {"field": "y", "type": "quantitative"},
    "stroke": {"field": "s", "type": "nominal", "scale": {"domain": ["UiO-66(pure)"], "range": ["#8a8a8a"]}, "legend": {"title": null, "orient": "none", "legendX": 110.2, "legendY": 10.7, "symbolSize": 25, "labelOffset": 5.1, "symbolType": "M-2,0H2M-0.7,-0.7H0.7V0.7H-0.7Z", "symbolFillColor": "transparent"}}}},
  {"data": {"name": "b"}, "transform": [{"filter": "datum.s === 'MIL-101(pure)'"}], "mark": {"type": "point", "filled": true, "opacity": 0},
   "encoding": {"x": {"field": "x", "type": "quantitative"}, "y": {"field": "y", "type": "quantitative"},
    "fill": {"field": "s", "type": "nominal", "scale": {"domain": ["MIL-101(pure)"], "range": ["transparent"]}, "legend": {"title": null, "orient": "none", "legendX": 110.2, "legendY": 18.9, "symbolSize": 25, "labelOffset": 5.1, "symbolType": "M-2,0H2M0.75,0A0.75,0.75,0,1,1,-0.75,0A0.75,0.75,0,1,1,0.75,0Z", "symbolStrokeColor": "#ef7f7f"}}}},
  {"data": {"name": "b"}, "transform": [{"filter": "datum.s === 'MIL-101@UiO-66'"}], "mark": {"type": "point", "filled": false, "color": "#7272d6", "opacity": 0},
   "encoding": {"x": {"field": "x", "type": "quantitative"}, "y": {"field": "y", "type": "quantitative"},
    "shape": {"field": "s", "type": "nominal", "scale": {"domain": ["MIL-101@UiO-66"], "range": ["M-2,0H2M0,-0.85L0.85,0.6H-0.85Z"]}, "legend": {"title": null, "orient": "none", "legendX": 110.2, "legendY": 27.4, "symbolSize": 25, "labelOffset": 5.1, "symbolFillColor": "transparent", "symbolStrokeColor": "#7272d6", "labelExpr": "datum.label + ' l6'"}}}},
  {"data": {"name": "barrows"}, "mark": {"type": "rule", "strokeWidth": 0.7, "color": "#000"},
   "encoding": {"x": {"field": "x", "type": "quantitative"}, "y": {"field": "y", "type": "quantitative"}, "x2": {"field": "x2"}, "y2": {"field": "y2"}}},
  {"data": {"name": "bnotes"}, "mark": {"type": "text", "fontSize": 10, "font": "Liberation Serif", "color": "#000"},
   "encoding": {"x": {"field": "x", "type": "quantitative"}, "y": {"field": "y", "type": "quantitative"}, "text": {"field": "t"}}}
 ]
},
{
 "width": 197, "height": 147,
 "layer": [
  {"data": {"name": "c"}, "mark": {"type": "line", "strokeWidth": 1.5},
   "encoding": {
    "x": {"field": "x", "type": "quantitative", "scale": {"domain": [0, 1105], "nice": false, "zero": false}, "axis": {"title": "Temperature / ℃", "values": [0, 200, 400, 600, 800, 1000], "labelExpr": "datum.value >= 1000 ? '1 000' : format(datum.value, 'd')", "tickCount": 30, "labelOverlap": false, "labelPadding": 4.5, "titlePadding": 3}},
    "y": {"field": "y", "type": "quantitative", "scale": {"domain": [-1.9, 110.6], "nice": false, "zero": false}, "axis": {"title": "Weight / %", "values": [0, 20, 40, 60, 80, 100], "tickCount": 30, "labelOverlap": false, "titlePadding": 4}},
    "color": {"field": "s", "type": "nominal", "scale": {"domain": ["UiO-66(pure)", "MIL-101(pure)", "MIL-101@UiO-66"], "range": ["#000000", "#ee2222", "#2b4fc4"]}, "legend": null}}},
  {"data": {"name": "c"}, "transform": [{"filter": "datum.s === 'UiO-66(pure)'"}], "mark": {"type": "point", "shape": "square", "filled": true, "size": 12, "opacity": 1},
   "encoding": {"x": {"field": "x", "type": "quantitative"}, "y": {"field": "y", "type": "quantitative"}, "color": {"field": "s", "type": "nominal", "legend": null}}},
  {"data": {"name": "c"}, "transform": [{"filter": "datum.s === 'MIL-101(pure)'"}], "mark": {"type": "point", "shape": "circle", "filled": true, "size": 12, "opacity": 1},
   "encoding": {"x": {"field": "x", "type": "quantitative"}, "y": {"field": "y", "type": "quantitative"}, "color": {"field": "s", "type": "nominal", "legend": null}}},
  {"data": {"name": "c"}, "transform": [{"filter": "datum.s === 'MIL-101@UiO-66'"}], "mark": {"type": "point", "shape": "triangle-up", "filled": true, "size": 12, "opacity": 1},
   "encoding": {"x": {"field": "x", "type": "quantitative"}, "y": {"field": "y", "type": "quantitative"}, "color": {"field": "s", "type": "nominal", "legend": null}}},
  {"data": {"name": "c"}, "transform": [{"filter": "datum.s === 'UiO-66(pure)'"}], "mark": {"type": "point", "filled": true, "color": "#000000", "opacity": 0},
   "encoding": {"x": {"field": "x", "type": "quantitative"}, "y": {"field": "y", "type": "quantitative"},
    "stroke": {"field": "s", "type": "nominal", "scale": {"domain": ["UiO-66(pure)"], "range": ["#000000"]}, "legend": {"title": null, "orient": "none", "legendX": 121.5, "legendY": 18.7, "symbolSize": 32, "labelOffset": 4.9, "symbolType": "M-2,0H2M-0.6,-0.6H0.6V0.6H-0.6Z", "symbolFillColor": "#000000"}}}},
  {"data": {"name": "c"}, "transform": [{"filter": "datum.s === 'MIL-101(pure)'"}], "mark": {"type": "point", "filled": true, "opacity": 0},
   "encoding": {"x": {"field": "x", "type": "quantitative"}, "y": {"field": "y", "type": "quantitative"},
    "fill": {"field": "s", "type": "nominal", "scale": {"domain": ["MIL-101(pure)"], "range": ["#ee2222"]}, "legend": {"title": null, "orient": "none", "legendX": 121.5, "legendY": 26.7, "symbolSize": 32, "labelOffset": 4.9, "symbolType": "M-2,0H2M0.65,0A0.65,0.65,0,1,1,-0.65,0A0.65,0.65,0,1,1,0.65,0Z", "symbolStrokeColor": "#ee2222"}}}},
  {"data": {"name": "c"}, "transform": [{"filter": "datum.s === 'MIL-101@UiO-66'"}], "mark": {"type": "point", "filled": true, "color": "#2b4fc4", "stroke": "#2b4fc4", "opacity": 0},
   "encoding": {"x": {"field": "x", "type": "quantitative"}, "y": {"field": "y", "type": "quantitative"},
    "shape": {"field": "s", "type": "nominal", "scale": {"domain": ["MIL-101@UiO-66"], "range": ["M-2,0H2M0,-0.75L0.75,0.5H-0.75Z"]}, "legend": {"title": null, "orient": "none", "legendX": 121.5, "legendY": 34.7, "symbolSize": 32, "labelOffset": 4.9, "symbolFillColor": "#2b4fc4", "symbolStrokeColor": "#2b4fc4"}}}}
 ]
},
{
 "width": 201.5, "height": 147,
 "layer": [
  {"data": {"name": "d"}, "mark": {"type": "line", "strokeWidth": 0.8, "opacity": 0.7},
   "encoding": {
    "x": {"field": "x", "type": "quantitative", "scale": {"domain": [-0.25, 104], "nice": false, "zero": false}, "axis": {"title": "Absolute presure / kPa", "values": [0, 20, 40, 60, 80, 100], "tickCount": 30, "labelOverlap": false, "labelPadding": 4.5, "titlePadding": 3}},
    "y": {"field": "y", "type": "quantitative", "scale": {"domain": [-0.089, 2.637], "nice": false, "zero": false}, "axis": {"title": "H₂ uptake / %", "values": [0, 0.4, 0.8, 1.2, 1.6, 2.0, 2.4], "format": ".1f", "tickCount": 30, "labelOverlap": false, "labelPadding": 7, "titlePadding": 4}},
    "color": {"field": "s", "type": "nominal", "scale": {"domain": ["UiO-66(pure)", "MIL-101(pure)", "MIL-101@UiO-66"], "range": ["#000000", "#ee2222", "#2b4fc4"]}, "legend": null}}},
  {"data": {"name": "d"}, "transform": [{"filter": "datum.s === 'UiO-66(pure)'"}], "mark": {"type": "point", "shape": "square", "filled": true, "size": 16, "opacity": 1},
   "encoding": {"x": {"field": "x", "type": "quantitative"}, "y": {"field": "y", "type": "quantitative"}, "color": {"field": "s", "type": "nominal", "legend": null}}},
  {"data": {"name": "d"}, "transform": [{"filter": "datum.s === 'MIL-101(pure)'"}], "mark": {"type": "point", "shape": "circle", "filled": true, "size": 18, "opacity": 1},
   "encoding": {"x": {"field": "x", "type": "quantitative"}, "y": {"field": "y", "type": "quantitative"}, "color": {"field": "s", "type": "nominal", "legend": null}}},
  {"data": {"name": "d"}, "transform": [{"filter": "datum.s === 'MIL-101@UiO-66'"}], "mark": {"type": "point", "shape": "triangle-up", "filled": true, "size": 18, "opacity": 1},
   "encoding": {"x": {"field": "x", "type": "quantitative"}, "y": {"field": "y", "type": "quantitative"}, "color": {"field": "s", "type": "nominal", "legend": null}}},
  {"data": {"name": "d"}, "transform": [{"filter": "datum.s === 'UiO-66(pure)'"}], "mark": {"type": "point", "filled": true, "color": "#000000", "opacity": 0},
   "encoding": {"x": {"field": "x", "type": "quantitative"}, "y": {"field": "y", "type": "quantitative"},
    "stroke": {"field": "s", "type": "nominal", "scale": {"domain": ["UiO-66(pure)"], "range": ["#000000"]}, "legend": {"title": null, "orient": "none", "legendX": 107.8, "legendY": 92, "symbolSize": 20, "labelOffset": 4.3, "symbolType": "M-2,0H2M-0.75,-0.75H0.75V0.75H-0.75Z", "symbolFillColor": "#000000"}}}},
  {"data": {"name": "d"}, "transform": [{"filter": "datum.s === 'MIL-101(pure)'"}], "mark": {"type": "point", "filled": true, "opacity": 0},
   "encoding": {"x": {"field": "x", "type": "quantitative"}, "y": {"field": "y", "type": "quantitative"},
    "fill": {"field": "s", "type": "nominal", "scale": {"domain": ["MIL-101(pure)"], "range": ["#ee2222"]}, "legend": {"title": null, "orient": "none", "legendX": 107.8, "legendY": 100.3, "symbolSize": 20, "labelOffset": 4.3, "symbolType": "M-2,0H2M0.8,0A0.8,0.8,0,1,1,-0.8,0A0.8,0.8,0,1,1,0.8,0Z", "symbolStrokeColor": "#ee2222"}}}},
  {"data": {"name": "d"}, "transform": [{"filter": "datum.s === 'MIL-101@UiO-66'"}], "mark": {"type": "point", "filled": true, "color": "#2b4fc4", "stroke": "#2b4fc4", "opacity": 0},
   "encoding": {"x": {"field": "x", "type": "quantitative"}, "y": {"field": "y", "type": "quantitative"},
    "shape": {"field": "s", "type": "nominal", "scale": {"domain": ["MIL-101@UiO-66"], "range": ["M-2,0H2M0,-0.9L0.9,0.6H-0.9Z"]}, "legend": {"title": null, "orient": "none", "legendX": 107.8, "legendY": 108.7, "symbolSize": 20, "labelOffset": 4.3, "symbolFillColor": "#2b4fc4", "symbolStrokeColor": "#2b4fc4"}}}}
 ]
}
]
}
